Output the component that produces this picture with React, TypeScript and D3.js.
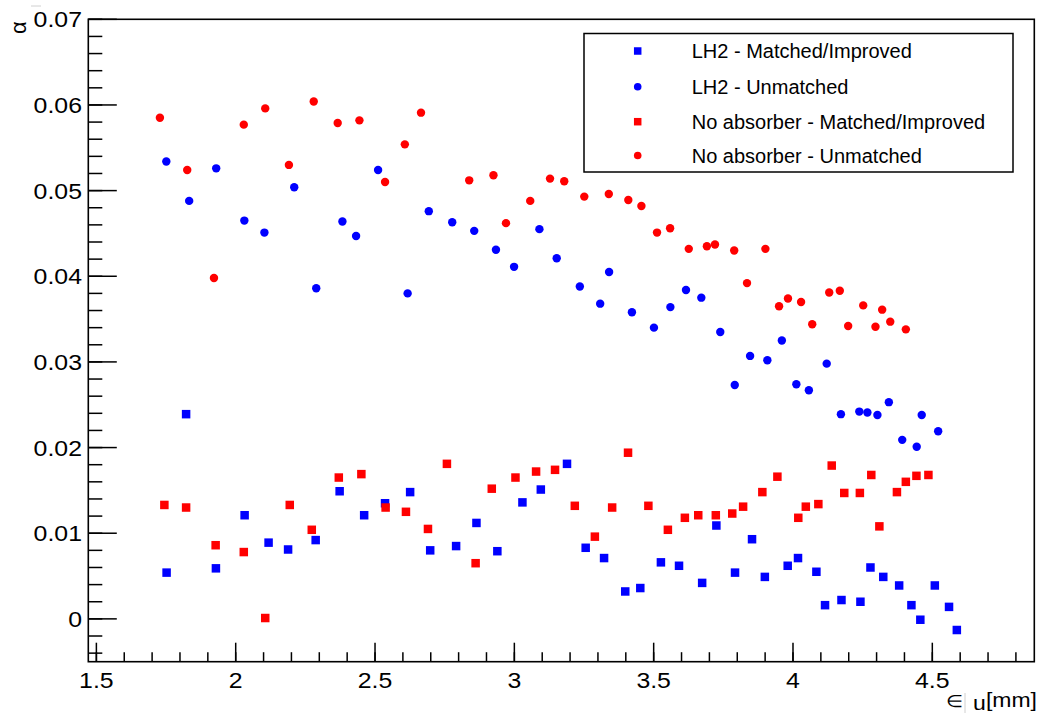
import React from "react";
import * as d3 from "d3";

const lh2MatchedX = [1.752,1.822,1.929,2.032,2.118,2.188,2.287,2.373,2.461,2.536,2.626,2.698,2.791,2.864,2.939,3.029,3.095,3.189,3.256,3.322,3.398,3.452,3.526,3.591,3.674,3.725,3.792,3.853,3.899,3.981,4.018,4.084,4.115,4.174,4.242,4.278,4.324,4.381,4.425,4.457,4.509,4.560,4.588];
const lh2MatchedY = [0.0054,0.0239,0.0059,0.0121,0.0089,0.0081,0.0092,0.0149,0.0121,0.0135,0.0148,0.0080,0.0085,0.0112,0.0079,0.0136,0.0151,0.0181,0.0083,0.0071,0.0032,0.0036,0.0066,0.0062,0.0042,0.0109,0.0054,0.0093,0.0049,0.0062,0.0071,0.0055,0.0016,0.0022,0.0020,0.0060,0.0049,0.0039,0.0016,-0.0001,0.0039,0.0014,-0.0013];

const lh2UnmatchedX = [1.751,1.833,1.930,2.031,2.103,2.210,2.289,2.383,2.432,2.511,2.617,2.693,2.777,2.856,2.934,2.999,3.090,3.152,3.235,3.308,3.340,3.422,3.501,3.560,3.616,3.671,3.739,3.791,3.846,3.908,3.960,4.012,4.057,4.121,4.172,4.238,4.267,4.303,4.344,4.392,4.444,4.462,4.521];
const lh2UnmatchedY = [0.0534,0.0488,0.0526,0.0465,0.0451,0.0504,0.0386,0.0464,0.0447,0.0524,0.0380,0.0476,0.0463,0.0453,0.0431,0.0411,0.0455,0.0421,0.0388,0.0368,0.0405,0.0358,0.0340,0.0364,0.0384,0.0375,0.0335,0.0273,0.0307,0.0302,0.0325,0.0274,0.0267,0.0298,0.0239,0.0242,0.0241,0.0238,0.0253,0.0209,0.0201,0.0238,0.0219];

const noAbsMatchedX = [1.744,1.822,1.928,2.029,2.106,2.194,2.273,2.370,2.451,2.538,2.611,2.690,2.758,2.861,2.919,3.004,3.078,3.146,3.217,3.289,3.351,3.408,3.481,3.551,3.612,3.660,3.723,3.782,3.821,3.890,3.944,4.019,4.046,4.091,4.139,4.184,4.240,4.281,4.310,4.373,4.405,4.443,4.486];
const noAbsMatchedY = [0.0133,0.0130,0.0086,0.0078,0.0001,0.0133,0.0104,0.0165,0.0169,0.0130,0.0125,0.0105,0.0181,0.0065,0.0152,0.0165,0.0172,0.0174,0.0132,0.0096,0.0130,0.0194,0.0132,0.0104,0.0118,0.0121,0.0121,0.0123,0.0131,0.0148,0.0166,0.0118,0.0131,0.0134,0.0179,0.0147,0.0147,0.0168,0.0108,0.0148,0.0160,0.0167,0.0168];

const noAbsUnmatchedX = [1.728,1.826,1.922,2.029,2.106,2.191,2.280,2.366,2.444,2.536,2.607,2.665,2.838,2.925,2.970,3.057,3.128,3.179,3.251,3.339,3.409,3.456,3.512,3.559,3.626,3.691,3.720,3.789,3.835,3.901,3.950,3.982,4.029,4.069,4.130,4.168,4.198,4.252,4.296,4.320,4.349,4.405];
const noAbsUnmatchedY = [0.0585,0.0524,0.0398,0.0577,0.0596,0.0530,0.0604,0.0579,0.0582,0.0510,0.0554,0.0591,0.0512,0.0518,0.0462,0.0488,0.0514,0.0511,0.0493,0.0496,0.0489,0.0482,0.0451,0.0456,0.0432,0.0435,0.0437,0.0430,0.0392,0.0432,0.0365,0.0374,0.0370,0.0344,0.0381,0.0383,0.0342,0.0366,0.0341,0.0361,0.0347,0.0338];

const xMajorTicks = [1.5, 2, 2.5, 3, 3.5, 4, 4.5];
const xTickLabels = ["1.5", "2", "2.5", "3", "3.5", "4", "4.5"];
const yMajorTicks = [0, 0.01, 0.02, 0.03, 0.04, 0.05, 0.06, 0.07];
const yTickLabels = ["0", "0.01", "0.02", "0.03", "0.04", "0.05", "0.06", "0.07"];

const legendLabels = [
  "LH2 - Matched/Improved",
  "LH2 - Unmatched",
  "No absorber - Matched/Improved",
  "No absorber - Unmatched",
];

const W = 1038, H = 723;
const L = 88.3, R = 1034.3, T = 19.3, B = 661.7;
const FONT = "'Liberation Sans', Arial, Helvetica, sans-serif";

export default function App() {
  const x = d3.scaleLinear().domain([1.471, 4.866]).range([L, R]);
  const y = d3.scaleLinear().domain([-0.005, 0.07]).range([B, T]);

  const xMinor = d3.range(15, 49).map((v) => v / 10);
  const yMinor = d3.range(-2, 36).map((v) => v * 0.002);

  const series = [
    { xs: lh2MatchedX, ys: lh2MatchedY, color: "#0000ff", shape: "square" },
    { xs: lh2UnmatchedX, ys: lh2UnmatchedY, color: "#0000ff", shape: "circle" },
    { xs: noAbsMatchedX, ys: noAbsMatchedY, color: "#ff0000", shape: "square" },
    { xs: noAbsUnmatchedX, ys: noAbsUnmatchedY, color: "#ff0000", shape: "circle" },
  ];

  const sq = 8.5;
  const cr = 4.2;

  const marker = (shape: string, cx: number, cy: number, color: string, key: any, s = sq, r = cr) =>
    shape === "square" ? (
      <rect key={key} x={cx - s / 2} y={cy - s / 2} width={s} height={s} fill={color} />
    ) : (
      <circle key={key} cx={cx} cy={cy} r={r} fill={color} />
    );

  const legendRowY = [51, 86.7, 121.7, 155.5];

  return (
    <svg width={W} height={H} style={{ position: "absolute", left: 0, top: 0, background: "#fff" }} fontFamily={FONT}>
      <rect x={0} y={0} width={W} height={H} fill="#fff" />
      {/* frame */}
      <rect x={L} y={T} width={R - L} height={B - T} fill="none" stroke="#000" strokeWidth={1.6} />

      {/* x ticks */}
      {xMinor.map((v, i) => (
        <line key={"xm" + i} x1={x(v)} x2={x(v)} y1={B} y2={B - 9.5} stroke="#000" strokeWidth={1.5} />
      ))}
      {xMajorTicks.map((v, i) => (
        <line key={"xM" + i} x1={x(v)} x2={x(v)} y1={B} y2={B - 19} stroke="#000" strokeWidth={1.5} />
      ))}
      {xMajorTicks.map((v, i) => (
        <text key={"xl" + i} transform={`translate(${x(v)},${687.5}) scale(1.13,1)`} textAnchor="middle" fontSize={22} fill="#000">
          {xTickLabels[i]}
        </text>
      ))}

      {/* y ticks */}
      {yMinor.map((v, i) => (
        <line key={"ym" + i} x1={L} x2={L + 14} y1={y(v)} y2={y(v)} stroke="#000" strokeWidth={1.5} />
      ))}
      {yMajorTicks.map((v, i) => (
        <line key={"yM" + i} x1={L} x2={L + 28.5} y1={y(v)} y2={y(v)} stroke="#000" strokeWidth={1.5} />
      ))}
      {yMajorTicks.map((v, i) => (
        <text key={"yl" + i} transform={`translate(${82},${y(v) + 8}) scale(1.13,1)`} textAnchor="end" fontSize={22} fill="#000">
          {yTickLabels[i]}
        </text>
      ))}

      {/* axis titles */}
      <text transform={`translate(${1037},${707}) scale(1.15,1)`} textAnchor="end" fontSize={20} fill="#000">
        <tspan fontSize={17}>∈</tspan>
        <tspan dx={9} dy={3}>u</tspan>
        <tspan dy={-3}>[mm]</tspan>
      </text>
      <line x1={965} x2={965} y1={693} y2={713} stroke="#d0d0d0" strokeWidth={1} />
      <text transform={`translate(${26},${34}) rotate(-90)`} fontSize={22} fill="#000">α</text>
      <line x1={31} x2={41} y1={6} y2={6} stroke="#d0d0d0" strokeWidth={1} />

      {/* data */}
      {series.map((s, si) => (
        <g key={"s" + si}>
          {s.xs.map((xv, i) => marker(s.shape, x(xv), y(s.ys[i]), s.color, si + "-" + i))}
        </g>
      ))}

      {/* legend */}
      <rect x={584} y={33.5} width={429} height={138.5} fill="#fff" stroke="#000" strokeWidth={1.5} />
      {legendLabels.map((lab, i) => (
        <g key={"lg" + i}>
          {marker(series[i].shape, 637.7, legendRowY[i], series[i].color, "lm" + i, 7.5, 3.8)}
          <text x={691.7} y={legendRowY[i] + 7.2} fontSize={20} fill="#000">{lab}</text>
        </g>
      ))}
    </svg>
  );
}
